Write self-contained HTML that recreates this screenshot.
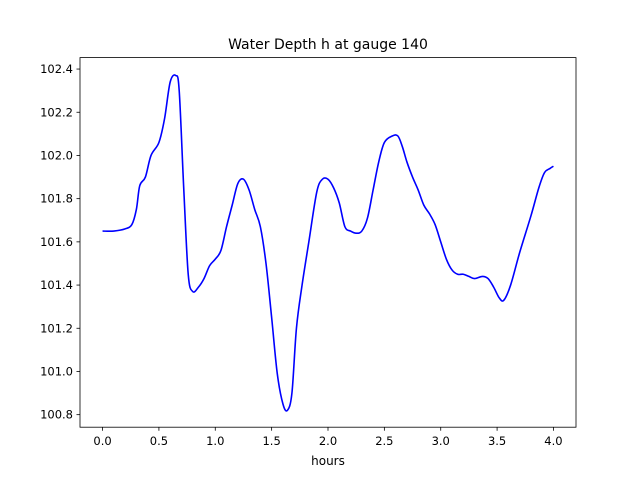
<!DOCTYPE html>
<html><head><meta charset="utf-8"><style>
body{margin:0;background:#fff}
svg text{font-family:"DejaVu Sans","Liberation Sans",sans-serif;fill:#000}
</style></head><body>
<svg id="chart" width="640" height="480">
<rect width="640" height="480" fill="#fff"/>
<text x="328" y="49" text-anchor="middle" font-size="14">Water Depth h at gauge 140</text>
<g id="ticks"></g>
<path id="line" fill="none" stroke="#0000ff" stroke-width="1.6"/>
<rect x="80" y="57.6" width="496" height="369.6" fill="none" stroke="#000" stroke-width="0.8"/>
<text x="328" y="465" text-anchor="middle" font-size="12">hours</text>
</svg>
<script>
const hours=[0,0.1,0.2,0.26,0.3,0.33,0.38,0.43,0.5,0.55,0.6,0.65,0.68,0.72,0.76,0.8,0.85,0.9,0.95,1.0,1.05,1.1,1.15,1.2,1.25,1.3,1.35,1.4,1.45,1.5,1.55,1.6,1.64,1.68,1.72,1.77,1.83,1.9,1.95,2.0,2.05,2.1,2.15,2.2,2.25,2.3,2.35,2.4,2.45,2.5,2.57,2.62,2.66,2.7,2.75,2.8,2.85,2.9,2.95,3.0,3.05,3.1,3.15,3.2,3.25,3.3,3.37,3.42,3.47,3.52,3.56,3.62,3.7,3.8,3.87,3.92,3.97,4.0];
const depth=[101.65,101.65,101.66,101.68,101.75,101.86,101.9,102.0,102.06,102.17,102.34,102.37,102.3,101.85,101.45,101.37,101.39,101.43,101.49,101.52,101.56,101.67,101.77,101.87,101.89,101.84,101.75,101.67,101.5,101.25,100.99,100.85,100.82,100.9,101.2,101.4,101.6,101.83,101.89,101.89,101.85,101.78,101.67,101.65,101.64,101.65,101.71,101.84,101.97,102.06,102.09,102.09,102.04,101.97,101.9,101.84,101.77,101.73,101.68,101.6,101.52,101.47,101.45,101.45,101.44,101.43,101.44,101.43,101.39,101.34,101.33,101.4,101.55,101.72,101.85,101.92,101.94,101.95];
const xTicks=[0,0.5,1,1.5,2,2.5,3,3.5,4];
const yTicks=[100.8,101.0,101.2,101.4,101.6,101.8,102.0,102.2,102.4];
const X=v=>80+(v+0.2)/4.4*496;
const Y=v=>427.2-(v-100.742)/1.711*369.6;
const ns="http://www.w3.org/2000/svg";
const g=document.getElementById('ticks');
xTicks.forEach(t=>{
 const l=document.createElementNS(ns,'line');
 
 
 l.setAttribute('x1',X(t));l.setAttribute('x2',X(t));l.setAttribute('y1',427.2);l.setAttribute('y2',430.7);l.setAttribute('stroke','#000');l.setAttribute('stroke-width','0.8');g.appendChild(l);
 const tx=document.createElementNS(ns,'text');
 
 
 tx.setAttribute('x',X(t));tx.setAttribute('y',445);tx.setAttribute('text-anchor','middle');tx.setAttribute('font-size','11.5');tx.textContent=t.toFixed(1);g.appendChild(tx);
});
yTicks.forEach(t=>{
 const l=document.createElementNS(ns,'line');
 
 
 l.setAttribute('x1',76.5);l.setAttribute('x2',80);l.setAttribute('y1',Y(t));l.setAttribute('y2',Y(t));l.setAttribute('stroke','#000');l.setAttribute('stroke-width','0.8');g.appendChild(l);
 const tx=document.createElementNS(ns,'text');
 
 
 tx.setAttribute('x',73);tx.setAttribute('y',Y(t)+4);tx.setAttribute('text-anchor','end');tx.setAttribute('font-size','11.5');tx.textContent=t.toFixed(1);g.appendChild(tx);
});
const P=hours.map((h,i)=>[X(h),Y(depth[i])]);
let d='M'+P[0][0]+','+P[0][1];
for(let i=0;i<P.length-1;i++){
 const p0=P[Math.max(0,i-1)],p1=P[i],p2=P[i+1],p3=P[Math.min(P.length-1,i+2)];
 const c1=[p1[0]+(p2[0]-p0[0])/6,p1[1]+(p2[1]-p0[1])/6];
 const c2=[p2[0]-(p3[0]-p1[0])/6,p2[1]-(p3[1]-p1[1])/6];
 d+=`C${c1[0]},${c1[1]} ${c2[0]},${c2[1]} ${p2[0]},${p2[1]}`;
}
document.getElementById('line').setAttribute('d',d);
</script>
</body></html>
